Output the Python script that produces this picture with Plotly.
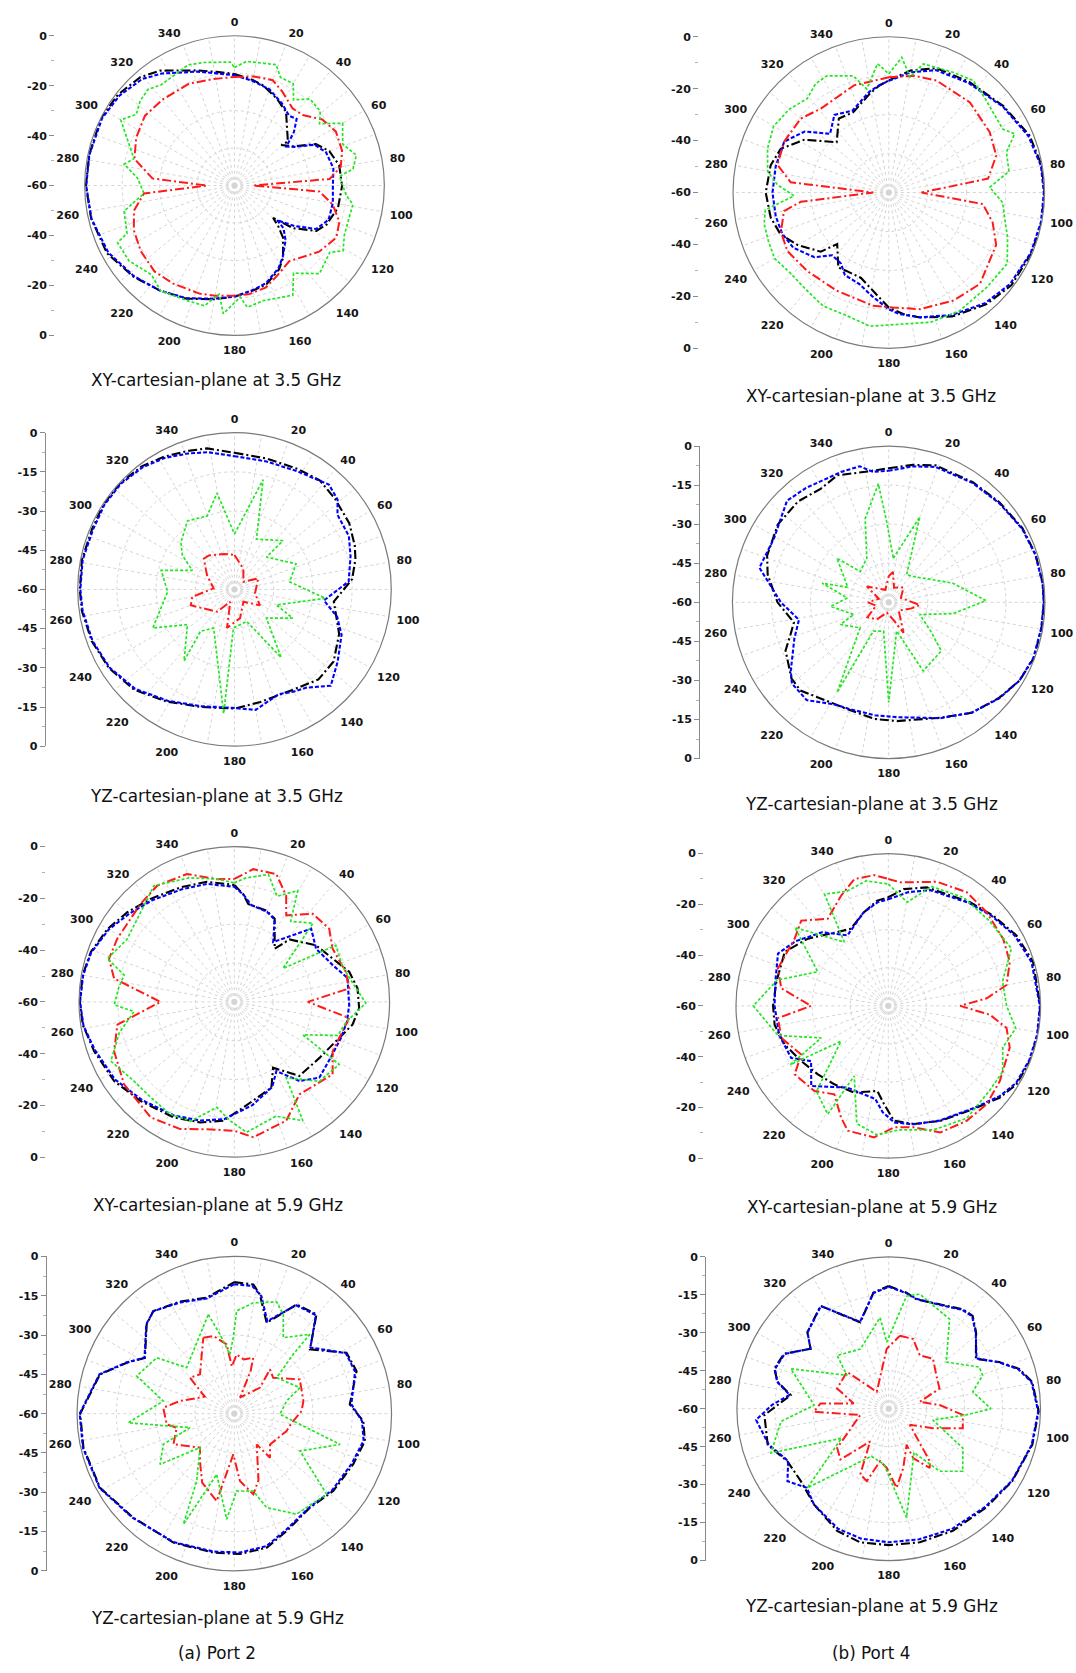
import plotly.graph_objects as go

# ---------------------------------------------------------------------------
# Radiation patterns (dB, -60 .. 0) read per angle (deg, clockwise from top)
# Four traces per panel: black dash-dot, blue dash, red dash-dot, green dot
# ---------------------------------------------------------------------------

# (a) Port 2 -- XY plane, 3.5 GHz
a_xy35_black_deg = [0, 10, 16, 26, 35, 50.5, 49, 56, 63, 70, 79, 90, 102, 113, 119, 126, 130, 133, 137, 146, 152, 162, 170, 180, 190, 203, 215, 228, 242, 257, 270, 282, 297, 308, 319, 327, 342, 351]
a_xy35_black_db = [-15.3, -17.1, -18.3, -21.3, -24, -32.3, -35.2, -31.9, -23.4, -19.6, -17.3, -16.9, -17.6, -20, -22.5, -31, -39.8, -36, -31.5, -25.2, -22, -18.5, -17.3, -15.5, -13.8, -10.8, -8.5, -5.5, -2.2, -1.1, -0.5, -0.5, -0.1, -0.8, -2.5, -5.1, -11.5, -13.9]
a_xy35_blue_deg = [0, 10, 20, 30, 38, 43, 48, 53, 57, 63, 70, 80, 90, 100, 110, 118, 124, 129, 131, 137, 146, 152, 162, 170, 180, 190, 203, 215, 228, 242, 257, 270, 282, 297, 308, 319, 327, 342, 351]
a_xy35_blue_db = [-15.8, -17.5, -19, -22, -24.5, -23.5, -28, -34, -31.5, -24, -21, -19.8, -20.6, -20, -19.9, -23, -31, -38, -34, -30, -25.5, -22.5, -19, -17.5, -15.6, -14, -11, -8.5, -5.8, -2.8, -1.2, -0.6, -0.6, -0.5, -1.5, -3.5, -6.5, -12, -14.5]
a_xy35_red_deg = [0, 10, 20, 27, 37, 44, 53, 62, 72, 80, 86, 90, 94, 101, 109, 117, 128, 144, 155, 163, 172, 180, 190, 198, 212, 223, 235, 246, 256, 265, 270, 275, 285, 296, 308, 320, 336, 349]
a_xy35_red_db = [-16.5, -15.6, -15.1, -17.8, -21.3, -20.7, -16, -14, -14.7, -16.8, -21.8, -52.5, -25.9, -19.9, -15.6, -14.2, -17, -22.6, -20, -17.3, -16.2, -15.9, -15.2, -14.5, -13.7, -13, -14.2, -15.9, -18.5, -23.6, -48.9, -27, -18.5, -16.2, -14.5, -15.1, -15.3, -16.5]
a_xy35_green_deg = [0, 5.6, 19, 23, 30, 34.5, 38, 41, 49, 54, 60, 69, 76, 82, 85, 95, 99, 114, 121, 125, 136, 146, 152, 166, 174, 177, 185, 188, 194, 202, 215, 223, 234.5, 244, 246, 257, 265, 274.5, 281, 285, 300, 306, 312, 318, 324, 339, 346, 358]
a_xy35_green_db = [-12.7, -10, -8.8, -12.9, -12.9, -18.3, -16.2, -14, -14.5, -17.9, -10, -13.6, -9.7, -12.1, -17.8, -15.1, -12, -11.8, -9.3, -13.4, -11, -17.7, -10.3, -12.5, -11, -15.3, -8.5, -16.1, -10.4, -10.2, -8.5, -11.2, -8.1, -7.9, -12.9, -14.6, -23.6, -21, -15, -18.3, -7.4, -11.4, -9.2, -8.2, -10.1, -8.2, -9.2, -10.5]

# (b) Port 4 -- XY plane, 3.5 GHz
b_xy35_black_deg = [0, 10, 21, 36, 53, 68, 80, 90, 101, 113, 127, 139, 153, 166, 173, 180, 189, 198, 208, 214, 225, 229, 240, 249, 258, 270, 283, 292, 302, 314, 326, 336, 349, 355]
b_xy35_black_db = [-16.8, -12.3, -8.7, -7.3, -4.7, -1.5, -0.2, 0, 0, -0.3, -0.8, -2.9, -6.4, -10.4, -12.8, -15.7, -21.6, -25.4, -25.7, -25.2, -31.9, -25.3, -19.5, -15.3, -13.5, -12.6, -13.3, -15.1, -21.6, -32.1, -25.6, -26.2, -21.3, -18.6]
b_xy35_blue_deg = [0, 10, 21, 36, 53, 68, 80, 90, 101, 113, 127, 139, 153, 166, 175, 180, 189, 198, 208, 214, 222, 229, 240, 249, 258, 270, 283, 296, 306, 315, 325, 336, 349, 355]
b_xy35_blue_db = [-17, -13, -9.5, -7.8, -5, -2, -0.5, -0.3, -0.3, -0.6, -1.5, -3.5, -7, -10.5, -13, -15, -19.5, -23, -24, -27, -27.5, -22, -17.5, -16, -15.5, -15.2, -15.3, -15.2, -20, -28, -23.5, -25.5, -20.5, -18.5]
b_xy35_red_deg = [0, 12, 23, 42, 59, 71, 82, 90, 97, 106, 116, 135, 149, 165, 178, 188, 208, 226, 240, 250, 260, 264, 270, 276, 284, 296, 310, 321, 342]
b_xy35_red_db = [-15.6, -14, -13.1, -13.3, -14.7, -16.2, -21.4, -47.4, -23.5, -18.4, -14, -10.3, -11.5, -13.5, -15.7, -16, -17.2, -16.4, -14.9, -15.8, -19, -25.9, -54, -22, -15.8, -15.2, -15.7, -18.4, -16.6]
b_xy35_green_deg = [0, 5.5, 10.4, 15, 28, 37, 45, 52, 61, 65, 71, 80, 87, 95, 101, 111, 121, 134, 149, 162, 175, 188, 199, 210, 220, 231, 240, 248, 256, 262, 268, 274, 280, 290, 300, 310, 319, 326, 332, 343, 348, 355]
b_xy35_green_db = [-14.3, -7.7, -14.8, -8.7, -7.5, -6, -8, -9.3, -9.7, -6.5, -12.1, -13, -21.1, -16, -14.7, -11, -6.8, -7.5, -6.9, -7.5, -9.1, -8, -9.9, -9.5, -10.8, -11, -9.2, -10, -10.5, -12, -23.5, -17, -12.6, -10.3, -8.8, -10, -12.1, -9.5, -9.1, -13, -19.2, -10.2]

# (a) Port 2 -- YZ plane, 3.5 GHz
a_yz35_black_deg = [0, 14, 28, 38, 48, 60, 70, 76, 85, 97, 113, 126, 137, 150, 167, 180, 196, 211, 225, 238, 250, 262, 270, 281, 293, 303, 313, 323, 332, 341, 349]
a_yz35_black_db = [-7.7, -8.4, -7.9, -7, -8.2, -9.3, -11, -12.3, -14.8, -21.7, -16.5, -13.1, -12.9, -15.6, -15.8, -14.4, -13.2, -9.9, -5.7, -3.3, -1.9, -1, -0.8, -0.5, -0.8, -0.2, -0.2, -1, -2.5, -4, -5]
a_yz35_blue_deg = [0, 14, 28, 42, 49, 54, 65, 74, 86, 97, 105, 113, 125, 135, 144, 150, 157, 170, 180, 196, 211, 225, 238, 250, 262, 270, 281, 293, 303, 313, 323, 332, 341, 349]
a_yz35_blue_db = [-9, -9.5, -8.8, -6, -7.7, -11.3, -11.7, -13.8, -16.2, -25.5, -19.3, -15.5, -11.8, -7.9, -13.5, -14.8, -16.5, -13.2, -14.6, -13.5, -10.3, -6.2, -3.6, -2.2, -1.3, -1, -0.8, -1.2, -0.6, -0.6, -1.5, -3, -5, -6.5]
a_yz35_red_deg = [0, 23, 49.6, 65, 101, 122, 144, 169, 191, 199, 218, 250, 260, 273, 297, 315, 323, 343]
a_yz35_red_db = [-46.8, -51.4, -55.5, -50, -52, -48.5, -54.2, -48.8, -45, -55, -49.2, -42.2, -43.6, -52, -48.2, -43.4, -43.7, -45.8]
a_yz35_green_deg = [0, 14.6, 23.6, 44.8, 44.7, 67.4, 82.2, 95.6, 110.3, 116.2, 131.9, 145.6, 159.1, 181.5, 185, 208.3, 219, 215.2, 233.2, 244.7, 268, 284.6, 294.4, 303.1, 311.3, 325.5, 339.6, 349.7]
a_yz35_green_db = [-38.8, -16.6, -39, -33.7, -42.6, -34.5, -38.7, -25, -42.9, -35.2, -43.6, -28.4, -46.9, -45.3, -12.3, -43.2, -39.4, -26.5, -37.5, -25.4, -34.4, -31, -42.3, -36.2, -32.7, -28.2, -30, -22.5]

# (b) Port 4 -- YZ plane, 3.5 GHz
b_yz35_black_deg = [0, 10, 19, 35, 48, 61, 72, 83, 90, 99.5, 111, 121, 131, 143, 156, 176, 187, 201, 210, 225, 232, 245, 252, 258, 270, 283, 291, 305, 318, 329, 338, 350]
b_yz35_black_db = [-8.5, -6.4, -4.4, -3.7, -2.7, -1.3, -0.7, -0.4, -0.4, -0.5, -0.3, -1.5, -4, -6.9, -11.5, -14.3, -14.9, -16, -15.6, -12.1, -12.6, -16.3, -20.4, -22.8, -17.3, -12.3, -10, -8, -7.9, -9.2, -7.4, -9.1]
b_yz35_blue_deg = [0, 10, 19, 35, 48, 61, 72, 83, 90, 99.5, 111, 121, 131, 143, 156, 176, 187, 201, 208, 220, 230, 235, 249, 259, 270, 280, 285, 299, 315, 324, 340, 348, 353]
b_yz35_blue_db = [-9.5, -7, -5, -4, -3, -1.5, -0.8, -0.5, -0.5, -0.6, -0.5, -1.5, -3.8, -7, -11.3, -15.8, -16.3, -16.3, -15.6, -11, -11.5, -14.1, -21.2, -24.9, -18.6, -12.8, -8.6, -9.6, -4.8, -5.8, -6.7, -6.6, -9.5]
b_yz35_red_deg = [0, 8, 20, 45, 70, 95, 105, 130, 154, 165, 190, 215, 235, 255, 270, 290, 306, 320, 345]
b_yz35_red_db = [-50, -48.2, -54, -52, -55, -48, -51, -55, -47, -53, -56, -52, -50, -55, -52, -56, -49.6, -53, -55]
b_yz35_green_deg = [6, 20, 33, 43.5, 73.4, 89, 100, 111.5, 125, 132.8, 153.3, 164.6, 180, 190, 207.9, 209.8, 228.2, 245.3, 250.8, 266, 276, 286.1, 290, 310.4, 317.2, 333.6, 344.3, 355, 358.6]
b_yz35_green_db = [-43, -25.1, -47.4, -46.3, -34.3, -22.6, -35, -47.2, -40, -32.5, -30.5, -48.6, -21.6, -48.8, -47.5, -20.1, -45.3, -39.6, -45.8, -37.6, -44, -33.4, -43.3, -33.9, -43.9, -41.1, -26.6, -14.3, -29.1]

# (a) Port 2 -- XY plane, 5.9 GHz
a_xy59_black_deg = [0, 4.7, 8.1, 19.4, 25.9, 37.2, 41.5, 55.3, 66.2, 75.3, 83.7, 92.9, 100.9, 113.5, 123.3, 138.7, 149.5, 156.6, 175.2, 185.3, 195.8, 207.7, 223.4, 236.6, 250.6, 261.4, 270, 280, 289.2, 300, 310, 320.9, 334.8, 347.1]
a_xy59_black_db = [-14.8, -18.2, -21.8, -22.6, -24.3, -34.2, -27.8, -21.6, -18.5, -14.1, -12.1, -11.7, -13.5, -18.6, -20.6, -21.9, -30.5, -23.9, -19, -13.9, -11.6, -9.6, -7.3, -4.4, -2.6, -0.8, -0.3, -0.5, -1.3, -3.5, -6.1, -8.7, -11.1, -12.4]
a_xy59_blue_deg = [0, 5, 10, 20, 26, 33, 46.4, 57, 69.5, 78, 91.5, 100, 108.7, 120, 131.7, 140.5, 148.7, 156, 170, 185, 196, 208, 223, 237, 251, 261, 270, 280, 289, 300, 310, 321, 335, 347]
a_xy59_blue_db = [-15.5, -18.5, -22, -23, -24.5, -32.4, -19, -22.3, -19.4, -15.3, -15.6, -15.8, -16.5, -17, -16, -20.4, -28.7, -24, -19.5, -14.5, -12.3, -10.3, -8, -5, -3, -1, -0.4, -0.7, -1.5, -4, -7, -9.5, -12, -13.2]
a_xy59_red_deg = [0, 8.1, 18.2, 26, 31, 41.7, 52.4, 61.5, 74.9, 83.3, 90, 98, 116.6, 126.4, 144.8, 156.4, 172, 180, 192.2, 203, 215.9, 233.2, 247.7, 259, 270, 281, 289, 298.4, 316.3, 326.4, 339.7, 351.9]
a_xy59_red_db = [-12.5, -8.2, -8, -14.3, -21, -14.4, -13.7, -16.8, -15.4, -15.3, -31.6, -15.2, -17.5, -12.8, -16.3, -9.9, -7.2, -10.2, -9.7, -6.6, -4.9, -6.8, -9.8, -14, -31.5, -12.7, -8.8, -8.6, -7.6, -6.1, -7.3, -12.1]
a_xy59_green_deg = [0, 5, 15, 22, 29.7, 35, 45, 55.5, 60.9, 72, 80, 90.5, 100, 108, 115.6, 120.8, 133, 145.6, 150, 160, 174.6, 182, 189.4, 200, 210, 222, 231.7, 244.4, 255, 264.5, 268.6, 277, 283.7, 288.9, 300, 313.8, 325.3, 340, 352]
a_xy59_green_db = [-14, -12, -9, -16, -10.5, -22, -17, -37.2, -15.1, -16, -14, -9.2, -16, -18, -30.6, -12.8, -15, -24.5, -7, -13, -9.4, -14, -18.7, -11, -10, -11, -10.6, -7.1, -14, -21.1, -13.6, -15, -16.2, -8.2, -12, -9.9, -5.4, -9, -12]

# (b) Port 4 -- XY plane, 5.9 GHz
b_xy59_black_deg = [0, 7.6, 18.1, 38.3, 49.3, 61.2, 73.1, 90, 100.9, 111.4, 121.5, 129.4, 140.5, 155.7, 167.8, 177.2, 182.5, 187.3, 201.5, 214.5, 225.8, 237.6, 249.5, 260.6, 270, 282.2, 297.5, 309.9, 325.5, 334, 345.5, 354]
b_xy59_black_db = [-17.2, -13.6, -10.9, -8, -5.5, -2.4, -0.4, -0.1, 0, -0.2, -0.8, -3.1, -7.3, -10.3, -12.4, -14.7, -21.3, -26.2, -23.3, -22.5, -21.3, -19.4, -16.4, -14.6, -14.6, -14.9, -14, -18.7, -24.7, -26.2, -21.9, -18.3]
b_xy59_blue_deg = [0, 10, 20, 38, 49, 61, 73, 90, 101, 111, 121, 129, 140, 156, 168, 177, 183, 188, 206.5, 223.9, 234.4, 241.8, 255, 270, 282, 295.4, 305, 318, 330, 345, 354]
b_xy59_blue_db = [-18, -14.5, -11.5, -8.5, -6, -3, -1, -0.3, -0.3, -0.5, -1.2, -3.5, -7.5, -10.5, -12.3, -14, -18, -23, -24, -16.2, -22.6, -16.6, -15.5, -15.2, -14.5, -11.9, -15.5, -21, -27.9, -22, -19]
b_xy59_red_deg = [0, 5.7, 21.4, 34.6, 46.4, 59.7, 70.1, 80, 85.6, 90, 95, 100.6, 109, 124, 135, 145.7, 157.7, 168.2, 177.3, 186.2, 198, 203, 211.4, 220.9, 233.8, 240.8, 253.3, 263.7, 270, 279.3, 288.7, 305.6, 314.4, 325.2, 336.8, 345, 353.8]
b_xy59_red_db = [-10, -11.1, -7.5, -5.6, -6.5, -7.6, -9.1, -12.7, -21.1, -31.7, -19.8, -12.6, -9.4, -7, -5.2, -5.2, -6.1, -11.1, -12.1, -7.9, -8.3, -12.3, -19.2, -15.6, -14.3, -20.7, -16, -16.3, -29.6, -17.3, -14.1, -14.6, -12, -18.2, -12.8, -8.3, -8.2]
b_xy59_green_deg = [0, 10.3, 20, 35, 50, 65, 78, 90, 100, 110, 120, 130, 145, 160, 175, 185, 195, 205.9, 209.2, 220, 233.2, 239, 244.5, 255, 270, 283, 295.8, 310, 325.4, 330.3, 340, 350]
b_xy59_green_db = [-12, -18.5, -10, -8, -8, -6.5, -14, -13.4, -9, -12, -8, -8, -6, -8, -11, -9, -12, -29.3, -11.1, -16, -36.7, -15, -30.7, -15, -6.8, -15, -29.1, -12, -29.5, -9.3, -12, -10]

# (a) Port 2 -- YZ plane, 5.9 GHz
a_yz59_black_deg = [0, 8.4, 12.1, 19.6, 29.7, 39.6, 49.6, 61.5, 70.8, 85.4, 93.3, 101.8, 113, 128, 141.2, 155.9, 166.4, 177.7, 188.6, 205.3, 224.2, 241.1, 257.3, 270, 286.3, 295.3, 302, 315.5, 321.7, 334.1, 346.6]
a_yz59_black_db = [-9.8, -10.2, -13.5, -23.2, -12, -10.8, -22.1, -11.3, -10.6, -15.8, -10.7, -9.1, -10.7, -12.1, -14, -11, -7.4, -6.4, -6.4, -5.6, -4.7, -1.5, -1, -1.2, -6.6, -14.6, -19.8, -12.3, -10.1, -12.5, -14.5]
a_yz59_blue_deg = [0, 8, 13, 19.6, 29.7, 39.6, 49, 61.5, 70.8, 85.4, 93.3, 101.8, 113, 128, 141.2, 155.9, 166.4, 177.7, 188.6, 205.3, 224.2, 241.1, 257.3, 270, 286.3, 295.3, 302, 315.5, 321.7, 334.1, 346.6]
a_yz59_blue_db = [-10.6, -10.8, -14, -22.5, -12.4, -11.2, -21.5, -11.6, -11.2, -15.2, -11.2, -9.6, -11.3, -12.6, -14.2, -11.5, -8, -7, -6.8, -5.8, -4.5, -1.3, -0.8, -1, -6.4, -14.4, -19.6, -12.1, -10.2, -12.8, -14.8]
a_yz59_red_deg = [337.8, 344.9, 353.7, 357, 2.3, 10, 18.7, 21, 19.5, 44.6, 38.8, 47.3, 62.4, 79.6, 87.7, 100, 108.3, 130.7, 141, 143.9, 160, 166.7, 175.2, 181.4, 191.4, 205, 216, 225.3, 243.3, 256.4, 261, 274.8, 283.1, 300, 309, 318.9, 330]
a_yz59_red_db = [-28.7, -29.3, -33.4, -42, -37.4, -39, -37.5, -42.7, -53.5, -46, -38.3, -39.8, -31.8, -33.2, -34.3, -38, -39, -42, -38.4, -45.5, -33, -28.4, -34.2, -44.5, -26, -31, -37.7, -41.6, -34, -37.4, -33.9, -32.8, -38.7, -47, -38.2, -40.1, -35]
a_yz59_green_deg = [345.3, 349.8, 355.8, 359.2, 1.3, 9.7, 20.7, 26.3, 32.8, 43.6, 44.8, 49.6, 68.4, 76.4, 90.8, 106.2, 119.6, 131.1, 148.2, 161, 166.2, 178.3, 184.1, 196.2, 204.7, 209.2, 225.3, 235.7, 246.6, 252.5, 265.1, 280.1, 291.1, 305.8, 314]
a_yz59_green_db = [-20.9, -29.3, -37.3, -31, -20.8, -17.1, -14.4, -17.8, -25.5, -18.2, -28.1, -38.8, -33.1, -39.5, -42.6, -18, -31.2, -13.2, -14.9, -22.1, -29.6, -30.5, -19.6, -35.9, -13.5, -30.6, -41.6, -25.7, -30.5, -42.3, -19.4, -32.5, -20.1, -23.5, -34.7]

# (b) Port 4 -- YZ plane, 5.9 GHz
b_yz59_black_deg = [0, 8.7, 14.2, 26, 36.7, 42.1, 48.8, 60.2, 67.1, 73, 79.4, 91, 104.1, 120.4, 135.5, 152.3, 166.9, 180, 192, 202.9, 218, 230.5, 242.5, 253.4, 267.1, 277.9, 283.6, 289.3, 297.7, 307.5, 313.2, 326.5, 341.8, 352.5]
b_yz59_black_db = [-11.5, -13.6, -15.4, -14.1, -11, -10.5, -14.1, -20.3, -12.6, -6.1, -2.3, -0.7, -1.5, -3.4, -5.2, -5.5, -5.8, -6.1, -6, -7.6, -12, -15, -14.9, -10.1, -10.8, -20.9, -14.8, -12.1, -13.3, -21.1, -15.9, -11.2, -24.1, -13.7]
b_yz59_blue_deg = [0, 8.7, 14.2, 26, 36.7, 42.1, 48.8, 60.2, 67.1, 73, 79.4, 91, 104.1, 120.4, 135.5, 152.3, 166.9, 180, 192, 202.9, 218, 226, 234.4, 242.5, 253.4, 265.2, 272, 277.9, 283.6, 289.3, 297.7, 307.5, 313.2, 326.5, 341.8, 352.5]
b_yz59_blue_db = [-11.8, -13.8, -15.2, -14.3, -11.3, -10.8, -14.3, -20, -12.8, -6.5, -2.6, -0.9, -1.7, -3.6, -5.6, -6.3, -7, -7.2, -7.5, -8.5, -12, -15, -10.8, -15.2, -10.5, -7.4, -14, -20.5, -14.6, -12.4, -13.5, -21, -16, -11.4, -23.8, -13.9]
b_yz59_red_deg = [8.7, 19.3, 30.3, 41.6, 54.9, 68.4, 77.4, 85.9, 94.8, 104.8, 113.8, 127.4, 142, 145.3, 153.6, 153.6, 166.2, 174.3, 181.9, 189.3, 196.8, 203.4, 209.5, 223.5, 232.7, 257.5, 267.7, 274.4, 278.6, 291.4, 311.4, 324.8, 358.1]
b_yz59_red_db = [-30.8, -30.8, -35.6, -33.6, -37, -38.4, -47.4, -39.8, -30.6, -29.7, -40.9, -49.5, -33.6, -31.5, -38.2, -44.1, -35.9, -28.6, -36.6, -39, -30.1, -31.7, -45.1, -32.3, -34.4, -48.5, -30.4, -33, -46, -38.1, -38, -51.8, -36.3]
b_yz59_green_deg = [9, 15.2, 34.2, 51, 65.3, 70.4, 78.6, 90, 94.6, 104.4, 118, 130.2, 140.8, 150, 170.7, 185, 200, 225.8, 238, 249.4, 263.2, 272.8, 292.2, 308.7, 315.9, 334.6, 354.6, 358.3]
b_yz59_green_db = [-14.9, -13.1, -17.2, -30.7, -20.6, -20.6, -26.1, -19.6, -29.3, -42, -26.8, -21.7, -28.1, -40, -16.4, -38, -40, -15.2, -38, -10.3, -17.1, -30.5, -18.2, -38.9, -30.7, -33.9, -23.8, -33.7]

# Panel captions and the two column labels
panel_titles = [
    "XY-cartesian-plane at 3.5 GHz", "XY-cartesian-plane at 3.5 GHz",
    "YZ-cartesian-plane at 3.5 GHz", "YZ-cartesian-plane at 3.5 GHz",
    "XY-cartesian-plane at 5.9 GHz", "XY-cartesian-plane at 5.9 GHz",
    "YZ-cartesian-plane at 5.9 GHz", "YZ-cartesian-plane at 5.9 GHz",
]
column_labels = ["(a) Port 2", "(b) Port 4"]

angle_ticks = list(range(0, 360, 10))
angle_labels = [str(a) if a % 20 == 0 else "" for a in angle_ticks]

# scale labels of the side axes (dB, mirrored about the pole)
xy_scale_vals = [-60, -40, -20, 0, 20, 40, 60]
xy_scale_text = ["0", "-20", "-40", "-60", "-40", "-20", "0"]
yz_scale_vals = [-60, -45, -30, -15, 0, 15, 30, 45, 60]
yz_scale_text = ["0", "-15", "-30", "-45", "-60", "-45", "-30", "-15", "0"]

# ---------------------------------------------------------------------------
W, H = 1076, 1673

panels = [
    # curves, centre x/y, radius, side-axis x, XY-type?, caption centre
    dict(curves=[(a_xy35_black_deg, a_xy35_black_db), (a_xy35_blue_deg, a_xy35_blue_db),
                 (a_xy35_red_deg, a_xy35_red_db), (a_xy35_green_deg, a_xy35_green_db)],
         cx=234.5, cy=181, r=151, ax=54, xy=True, tx=216, ty=377),
    dict(curves=[(b_xy35_black_deg, b_xy35_black_db), (b_xy35_blue_deg, b_xy35_blue_db),
                 (b_xy35_red_deg, b_xy35_red_db), (b_xy35_green_deg, b_xy35_green_db)],
         cx=888.8, cy=188, r=157, ax=698, xy=True, tx=871, ty=393),
    dict(curves=[(a_yz35_black_deg, a_yz35_black_db), (a_yz35_blue_deg, a_yz35_blue_db),
                 (a_yz35_red_deg, a_yz35_red_db), (a_yz35_green_deg, a_yz35_green_db)],
         cx=234.5, cy=588, r=158, ax=44.5, xy=False, tx=216, ty=796.5),
    dict(curves=[(b_yz35_black_deg, b_yz35_black_db), (b_yz35_blue_deg, b_yz35_blue_db),
                 (b_yz35_red_deg, b_yz35_red_db), (b_yz35_green_deg, b_yz35_green_db)],
         cx=888.7, cy=601, r=157.5, ax=699, xy=False, tx=871, ty=804),
    dict(curves=[(a_xy59_black_deg, a_xy59_black_db), (a_xy59_blue_deg, a_xy59_blue_db),
                 (a_xy59_red_deg, a_xy59_red_db), (a_xy59_green_deg, a_xy59_green_db)],
         cx=234.3, cy=1003.7, r=156.5, ax=45, xy=True, tx=217.5, ty=1208.5),
    dict(curves=[(b_xy59_black_deg, b_xy59_black_db), (b_xy59_blue_deg, b_xy59_blue_db),
                 (b_xy59_red_deg, b_xy59_red_db), (b_xy59_green_deg, b_xy59_green_db)],
         cx=888.3, cy=1007.7, r=153.5, ax=703, xy=True, tx=871.7, ty=1210),
    dict(curves=[(a_yz59_black_deg, a_yz59_black_db), (a_yz59_blue_deg, a_yz59_blue_db),
                 (a_yz59_red_deg, a_yz59_red_db), (a_yz59_green_deg, a_yz59_green_db)],
         cx=234.3, cy=1418.7, r=158.5, ax=45.7, xy=False, tx=217, ty=1624.5),
    dict(curves=[(b_yz59_black_deg, b_yz59_black_db), (b_yz59_blue_deg, b_yz59_blue_db),
                 (b_yz59_red_deg, b_yz59_red_db), (b_yz59_green_deg, b_yz59_green_db)],
         cx=888.7, cy=1413.7, r=153, ax=705, xy=False, tx=871, ty=1613),
]
column_label_pos = [(217, 1660), (871, 1660)]

line_styles = [
    dict(color="#000000", width=2.1, dash="9px,3px,2px,3px"),   # black
    dict(color="#0000ff", width=2.1, dash="4px,2px"),            # blue
    dict(color="#ff1a1a", width=2.0, dash="9px,3px,2px,3px"),   # red
    dict(color="#22e622", width=1.7, dash="3px,2px"),            # green
]

TICK_FONT = dict(family="DejaVu Sans", size=11, color="#141414", weight="bold")
CAPTION_FONT = dict(family="DejaVu Sans", size=16.8, color="#111111")
GRID = "#d4d4d4"

fig = go.Figure()
layout = dict(width=W, height=H, margin=dict(l=0, r=0, t=0, b=0),
              paper_bgcolor="white", plot_bgcolor="white",
              showlegend=False, hovermode=False, annotations=[])


def px_x(x):
    return x / W


def px_y(y):
    return 1 - y / H


for i, p in enumerate(panels):
    n = i + 1
    pkey = "polar" if n == 1 else f"polar{n}"
    cx, cy, r = p["cx"], p["cy"], p["r"]

    for (deg, db), style in zip(p["curves"], line_styles):
        fig.add_trace(go.Scatterpolar(
            theta=list(deg) + [deg[0]], r=list(db) + [db[0]],
            mode="lines", line=style, subplot=pkey,
            hoverinfo="skip", showlegend=False))

    layout[pkey] = dict(
        domain=dict(x=[px_x(cx - r), px_x(cx + r)], y=[px_y(cy + r), px_y(cy - r)]),
        bgcolor="rgba(0,0,0,0)",
        angularaxis=dict(rotation=90, direction="clockwise",
                         tickmode="array", tickvals=angle_ticks, ticktext=angle_labels,
                         ticks="outside", ticklen=5, tickcolor="rgba(0,0,0,0)",
                         tickfont=TICK_FONT,
                         showline=True, linecolor="#7a7a7a", linewidth=1.2,
                         showgrid=True, gridcolor=GRID, griddash="dot", gridwidth=1),
        radialaxis=dict(range=[-60, 0], tickvals=[-45, -30, -15],
                        showticklabels=False, ticks="", showline=False,
                        showgrid=True, gridcolor=GRID, griddash="dot", gridwidth=1),
    )

    # side scale: a free-standing y axis spanning the circle's diameter
    xk = "xaxis" if n == 1 else f"xaxis{n}"
    yk = "yaxis" if n == 1 else f"yaxis{n}"
    xref = "x" if n == 1 else f"x{n}"
    yref = "y" if n == 1 else f"y{n}"
    pos = px_x(p["ax"])
    layout[xk] = dict(domain=[pos, min(pos + 0.002, 1)], anchor=yref, visible=False,
                      range=[0, 1], fixedrange=True)
    if p["xy"]:
        vals, text, minor_step = xy_scale_vals, xy_scale_text, 10
    else:
        vals, text, minor_step = yz_scale_vals, yz_scale_text, 7.5
    layout[yk] = dict(domain=[px_y(cy + r), px_y(cy - r)], anchor="free", position=pos,
                      side="left", range=[-60, 60], fixedrange=True,
                      tickmode="array", tickvals=vals, ticktext=text,
                      ticks="outside", ticklen=5, tickwidth=1, tickcolor="#8a8a8a",
                      tickfont=TICK_FONT, showgrid=False, zeroline=False,
                      showline=not p["xy"], linecolor="#8a8a8a", linewidth=1,
                      minor=dict(ticks="outside", ticklen=3, dtick=minor_step,
                                 tickcolor="#b0b0b0", showgrid=False))
    fig.add_trace(go.Scatter(x=[None], y=[None], xaxis=xref, yaxis=yref,
                             mode="markers", hoverinfo="skip", showlegend=False))

    layout["annotations"].append(dict(
        text=panel_titles[i], x=px_x(p["tx"]), y=px_y(p["ty"]),
        xref="paper", yref="paper", xanchor="center", yanchor="middle",
        showarrow=False, font=CAPTION_FONT))

for label, (lx, ly) in zip(column_labels, column_label_pos):
    layout["annotations"].append(dict(
        text=label, x=px_x(lx), y=px_y(ly), xref="paper", yref="paper",
        xanchor="center", yanchor="middle", showarrow=False, font=CAPTION_FONT))

fig.update_layout(**layout)
fig.write_html("out.html", config={"displayModeBar": False})
